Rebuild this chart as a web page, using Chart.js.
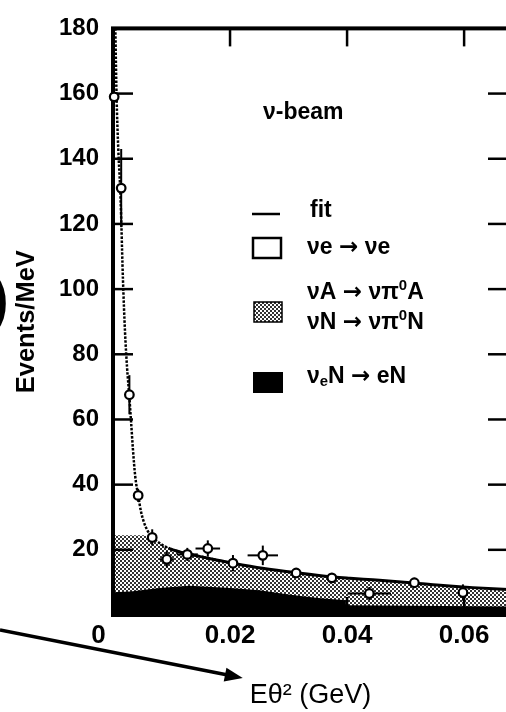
<!DOCTYPE html>
<html><head><meta charset="utf-8">
<script src="https://cdn.jsdelivr.net/npm/chart.js@4"></script>
<style>
html,body{margin:0;padding:0;background:#fff;overflow:hidden;}
#wrap{width:506px;height:712px;overflow:hidden;position:relative;}
canvas{display:block;}
</style></head><body>
<div id="wrap"><canvas id="c" width="520" height="712"></canvas></div>
<script>
// ---- data ----
const xTicks = [0, 0.02, 0.04, 0.06];
const yTicks = [0, 20, 40, 60, 80, 100, 120, 140, 160, 180];

const dataX    = [0.0002, 0.0014, 0.0028, 0.0043, 0.0067, 0.0092, 0.0127, 0.0162, 0.0205, 0.0256, 0.0313, 0.0374, 0.0438, 0.0515, 0.0598];
const dataY    = [159, 131, 67.6, 36.7, 23.8, 17.1, 18.6, 20.4, 15.9, 18.3, 12.9, 11.4, 6.6, 9.9, 6.9];
const dataXErr = [0, 0, 0, 0, 0.0006, 0.0012, 0.0018, 0.0021, 0.0008, 0.0026, 0, 0, 0.0037, 0, 0];
const dataYErr = [0, 12, 6, 2, 2.5, 2.5, 2, 2.5, 2.5, 3, 1.5, 1.5, 2, 1.5, 2.5];

const fitX = [0.0004, 0.0006, 0.0009, 0.0012, 0.0014, 0.00155, 0.0017, 0.00205, 0.0024, 0.00275, 0.0031, 0.0034, 0.0038, 0.0043, 0.0048, 0.0056, 0.0067, 0.008, 0.0097, 0.0132, 0.0188, 0.0246, 0.0303, 0.0359, 0.0405, 0.0444, 0.0503, 0.0559, 0.0615, 0.068];
const fitY = [180, 160, 143, 132, 122, 112, 103, 87, 76, 68, 59, 51, 42.5, 36.7, 31.6, 27, 24, 22, 20.4, 18.6, 16.5, 14.6, 13.2, 12.0, 11.3, 10.8, 10.0, 9.1, 8.4, 7.8];

const pi0X = [0, 0.0055, 0.0075, 0.0095, 0.012, 0.0145, 0.017, 0.02, 0.0246, 0.03, 0.0359, 0.0405, 0.045, 0.05, 0.056, 0.0615, 0.068];
const pi0Y = [24.5, 24.5, 22.3, 20.6, 19.5, 18.6, 17.6, 16.3, 14.5, 13.0, 11.7, 11.0, 10.4, 9.7, 8.9, 8.1, 7.4];

const nueX = [0, 0.003, 0.008, 0.013, 0.02, 0.025, 0.03, 0.035, 0.0398, 0.0398, 0.068];
const nueY = [7.0, 7.2, 8.3, 9.0, 8.3, 7.6, 6.3, 5.2, 4.5, 3.0, 2.6];

const beamLabel = 'ν-beam';
const legendLabels = ['fit', 'νe → νe', 'νA → νπ⁰A', 'νN → νπ⁰N', 'νₑN → eN'];
const xTitle = 'Eθ² (GeV)';
const yTitle = 'Events/MeV';

// ---- helpers ----
const FONT = "'Liberation Sans', Arial, Helvetica, sans-serif";
const zip = (xs, ys) => xs.map((x, i) => ({x, y: ys[i]}));
const cv = document.getElementById('c');
const ctx0 = cv.getContext('2d');
function makeStipple(ctx) {
  const c = document.createElement('canvas'); c.width = 4; c.height = 4;
  const g = c.getContext('2d');
  g.fillStyle = '#fff'; g.fillRect(0, 0, 4, 4);
  g.fillStyle = '#333';
  g.fillRect(0, 0, 2, 2); g.fillRect(2, 2, 2, 2);
  return ctx.createPattern(c, 'repeat');
}
const stipple = makeStipple(ctx0);

function drawRich(ctx, str, x, y, size, weight) {
  let cx = x;
  for (const ch of str) {
    let t = ch, s = size, dy = 0, fam = FONT;
    if (ch === '⁰') { t = '0'; s = size * 0.65; dy = -size * 0.3; }
    else if (ch === 'ₑ') { t = 'e'; s = size * 0.65; dy = size * 0.22; }
    else if (ch === '→') { fam = "'DejaVu Sans', sans-serif"; }
    ctx.font = weight + ' ' + s + 'px ' + fam;
    ctx.fillText(t, cx, y + dy);
    cx += ctx.measureText(t).width;
  }
}
function seg(ctx, x1, y1, x2, y2) { ctx.beginPath(); ctx.moveTo(x1, y1); ctx.lineTo(x2, y2); ctx.stroke(); }

const framePlugin = {
  id: 'frame',
  beforeDatasetDraw(chart, args) {
    if (args.index !== 0) return;
    const {ctx, chartArea: a, scales: {x, y}} = chart;
    ctx.save();
    ctx.strokeStyle = '#000';
    // error bars
    ctx.lineWidth = 2;
    dataX.forEach((vx, i) => {
      const px = x.getPixelForValue(vx), py = y.getPixelForValue(dataY[i]);
      if (dataXErr[i]) seg(ctx, x.getPixelForValue(vx - dataXErr[i]), py, x.getPixelForValue(vx + dataXErr[i]), py);
      if (dataYErr[i]) seg(ctx, px, y.getPixelForValue(dataY[i] - dataYErr[i]), px, y.getPixelForValue(dataY[i] + dataYErr[i]));
    });
    // inward ticks
    ctx.lineWidth = 2.5;
    yTicks.forEach(v => {
      if (v === yTicks[0] || v === yTicks[yTicks.length - 1]) return;
      const py = y.getPixelForValue(v);
      seg(ctx, a.left, py, a.left + 20, py);
      seg(ctx, a.right, py, a.right - 20, py);
    });
    xTicks.forEach(v => {
      if (v === 0) return;
      const px = x.getPixelForValue(v);
      seg(ctx, px, a.top, px, a.top + 18);
      seg(ctx, px, a.bottom, px, a.bottom - 18);
    });
    // frame
    ctx.lineWidth = 4;
    ctx.strokeRect(a.left, a.top, a.right - a.left, a.bottom - a.top);
    ctx.restore();
  }
};

const legendPlugin = {
  id: 'customLegend',
  afterDraw(chart) {
    const {ctx, chartArea: a} = chart;
    ctx.save();
    ctx.fillStyle = '#000'; ctx.strokeStyle = '#000';
    ctx.textBaseline = 'middle'; ctx.textAlign = 'left';
    const fs = 23;
    drawRich(ctx, beamLabel, 263, 113, 23, 'bold');
    const rowsY = [211, 248, 293, 323, 377];
    legendLabels.forEach((lab, i) => drawRich(ctx, lab, i === 0 ? 310 : 307, rowsY[i], fs, 'bold'));
    // swatches
    ctx.lineWidth = 2.5;
    seg(ctx, 252, 214, 280, 214);
    ctx.fillStyle = '#fff'; ctx.fillRect(253, 238, 28, 20); ctx.strokeRect(253, 238, 28, 20);
    ctx.fillStyle = stipple; ctx.fillRect(254, 302, 28, 20); ctx.lineWidth = 1.5; ctx.strokeRect(254, 302, 28, 20);
    ctx.fillStyle = '#000'; ctx.fillRect(253, 372, 30, 21);
    // arrow pointing to x-axis title
    ctx.font = '27px ' + FONT;
    const tw = ctx.measureText(xTitle).width;
    const tipX = (a.left + a.right) / 2 - tw / 2 - 7, tipY = a.bottom + 63;
    const sx = 0, sy = a.bottom + 15;
    const ang = Math.atan2(tipY - sy, tipX - sx);
    ctx.lineWidth = 3.5;
    seg(ctx, sx, sy, tipX - 14 * Math.cos(ang), tipY - 14 * Math.sin(ang));
    ctx.beginPath();
    ctx.moveTo(tipX, tipY);
    ctx.lineTo(tipX - 18 * Math.cos(ang) + 7 * Math.sin(ang), tipY - 18 * Math.sin(ang) - 7 * Math.cos(ang));
    ctx.lineTo(tipX - 18 * Math.cos(ang) - 7 * Math.sin(ang), tipY - 18 * Math.sin(ang) + 7 * Math.cos(ang));
    ctx.closePath(); ctx.fill();
    // cropped panel label at left edge
    ctx.font = 'bold 62px ' + FONT; ctx.textAlign = 'right';
    ctx.fillText('(b)', 9, 302);
    ctx.restore();
  }
};

new Chart(cv, {
  type: 'scatter',
  data: {
    datasets: [
      { label: 'data', data: zip(dataX, dataY), showLine: false, pointRadius: 4.3, pointBorderWidth: 2.2,
        pointBackgroundColor: '#fff', pointBorderColor: '#000', order: 1, clip: false },
      { label: 'fit', data: zip(fitX, fitY), showLine: true, pointRadius: 0, borderColor: '#000', borderWidth: 3,
        cubicInterpolationMode: 'monotone', fill: false, order: 2,
        segment: { borderDash: c => c.p1.parsed.x <= 0.0098 ? [2.5, 1.5] : undefined,
                   borderWidth: c => c.p1.parsed.x <= 0.0098 ? 2.5 : undefined } },
      { label: 'νₑN → eN', data: zip(nueX, nueY), showLine: true, pointRadius: 0, borderWidth: 0,
        borderColor: 'rgba(0,0,0,0)', backgroundColor: '#000', fill: 'origin', order: 3 },
      { label: 'νπ⁰', data: zip(pi0X, pi0Y), showLine: true, pointRadius: 0, borderWidth: 0,
        borderColor: 'rgba(0,0,0,0)', backgroundColor: stipple, fill: 'origin', order: 4 }
    ]
  },
  options: {
    responsive: false, animation: false, devicePixelRatio: 1,
    layout: { padding: { top: 16, right: 12, left: 0, bottom: 0 } },
    plugins: { legend: { display: false }, tooltip: { enabled: false } },
    scales: {
      x: {
        type: 'linear', min: 0, max: 0.0675,
        afterBuildTicks: s => { s.ticks = xTicks.map(v => ({value: v})); },
        afterFit: s => { s.height = 97; },
        ticks: { callback: v => v === 0 ? '0\u2007\u2007' : String(v), maxRotation: 0, autoSkip: false,
                 font: { family: FONT, size: 26, weight: 'bold' }, color: '#000', padding: 5 },
        grid: { display: false, drawTicks: false }, border: { display: false },
        title: { display: true, text: xTitle, font: { family: FONT, size: 27 }, color: '#000', padding: { top: 0, bottom: 0 } }
      },
      y: {
        type: 'linear', min: 0, max: 180,
        afterBuildTicks: s => { s.ticks = yTicks.map(v => ({value: v})); },
        afterFit: s => { s.width = 113; },
        ticks: { callback: v => v === 0 ? '' : String(v), autoSkip: false,
                 font: { family: FONT, size: 24, weight: 'bold' }, color: '#000', padding: 14 },
        grid: { display: false, drawTicks: false }, border: { display: false },
        title: { display: true, text: yTitle, font: { family: FONT, size: 25.5, weight: 'bold' }, color: '#000', padding: { top: 12, bottom: 0 } }
      }
    }
  },
  plugins: [framePlugin, legendPlugin]
});
</script>
</body></html>
